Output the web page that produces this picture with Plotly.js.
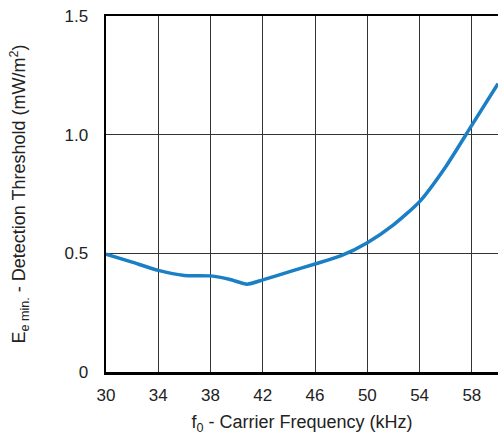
<!DOCTYPE html>
<html>
<head>
<meta charset="utf-8">
<script src="https://cdn.plot.ly/plotly-3.0.1.min.js"></script>
<style>html,body{margin:0;padding:0;background:#fff;}#chart{width:498px;height:435px;}</style>
</head>
<body>
<div id="chart"></div>
<script>
const freqKHz = [30, 32, 34, 36, 38, 39.5, 40.8, 42, 44, 46, 48, 50, 52, 54, 56, 58, 60];
const thresholdMW = [0.497, 0.463, 0.428, 0.407, 0.405, 0.39, 0.37, 0.388, 0.422, 0.455, 0.49, 0.545, 0.62, 0.718, 0.865, 1.04, 1.215];
const xTicks = [30, 34, 38, 42, 46, 50, 54, 58];
const yTicks = [0, 0.5, 1.0, 1.5];
const yTickText = ["0", "0.5", "1.0", "1.5"];

const tickFont = {family: "Liberation Sans, Arial, sans-serif", size: 17, color: "#222"};
const titleFont = {family: "Liberation Sans, Arial, sans-serif", size: 18, color: "#222"};

Plotly.newPlot("chart", [{
  x: freqKHz, y: thresholdMW, type: "scatter", mode: "lines",
  line: {color: "#1a7fc4", width: 3.5, shape: "spline", smoothing: 0.6},
  hoverinfo: "skip"
}], {
  width: 498, height: 435,
  margin: {l: 106, r: 0, t: 16, b: 63},
  paper_bgcolor: "#fff", plot_bgcolor: "#fff",
  font: tickFont,
  showlegend: false,
  xaxis: {
    range: [30, 60], tickvals: xTicks, ticks: "", ticklabelstandoff: 6,
    showgrid: true, gridcolor: "#333", gridwidth: 1,
    showline: true, linecolor: "#000", linewidth: 2.5, mirror: true,
    zeroline: false, tickfont: tickFont,
    title: {text: "f<sub>0</sub> - Carrier Frequency (kHz)", font: titleFont, standoff: 12}
  },
  yaxis: {
    range: [0, 1.5], tickvals: yTicks, ticktext: yTickText, ticks: "", ticklabelstandoff: 12,
    showgrid: true, gridcolor: "#333", gridwidth: 1,
    showline: true, linecolor: "#000", linewidth: 2.5, mirror: false,
    zeroline: false, tickfont: tickFont,
    title: {text: "E<sub>e min.</sub> - Detection Threshold (mW/m<sup>2</sup>)", font: titleFont, standoff: 34}
  }
}, {staticPlot: true});
</script>
</body>
</html>
